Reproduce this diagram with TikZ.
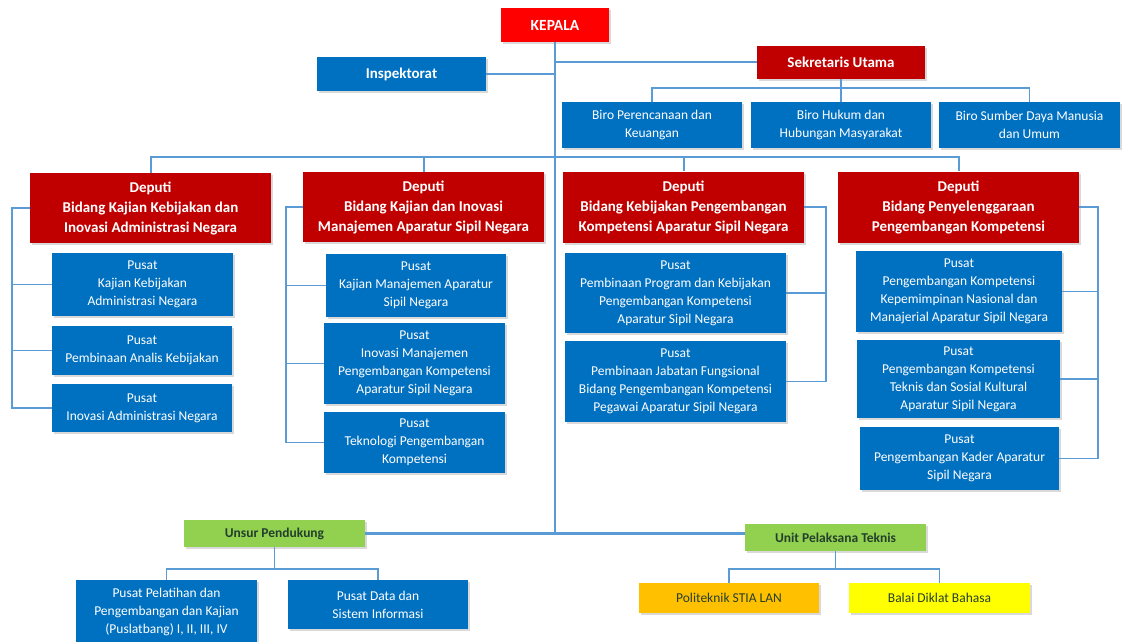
\documentclass[tikz,border=0pt]{standalone}
\usepackage{fontspec}
\setmainfont{Carlito}
\usetikzlibrary{shadows}

\definecolor{kepred}{HTML}{FF0000}
\definecolor{depred}{HTML}{C00000}
\definecolor{unitblue}{HTML}{0070C0}
\definecolor{linkblue}{HTML}{5B9BD5}
\definecolor{supgreen}{HTML}{92D050}
\definecolor{poliorange}{HTML}{FFC000}
\definecolor{balaiyellow}{HTML}{FFFF00}
\definecolor{darktext}{HTML}{24402C}

\begin{document}
\begin{tikzpicture}[x=1pt, y=-1pt,
  box/.style={inner sep=0pt, align=center,
    drop shadow={shadow xshift=2pt, shadow yshift=-2pt, opacity=0.3}},
  head/.style={box, fill=depred, text=white, font=\fontsize{15}{20}\selectfont\bfseries},
  unit/.style={box, fill=unitblue, text=white, font=\fontsize{13.5}{18}\selectfont},
  bold/.style={font=\fontsize{15}{18}\selectfont\bfseries},
  support/.style={box, fill=supgreen, text=darktext, font=\fontsize{13.5}{16}\selectfont\bfseries},
  school/.style={box, text=darktext, font=\fontsize{13.5}{16}\selectfont},
  link/.style={draw=linkblue, line width=1.4pt},
  mainlink/.style={draw=linkblue, line width=2.4pt}]

\useasboundingbox (0,0) rectangle (1125,642);
\clip (0,0) rectangle (1125,642);

\node[head, fill=kepred, font=\fontsize{15.5}{18}\selectfont\bfseries, minimum width=108pt, minimum height=34pt] (kepala) at (555,25) {KEPALA};
\node[unit, bold, minimum width=169pt, minimum height=34pt] (inspektorat) at (401.5,74) {Inspektorat};
\node[head, minimum width=168pt, minimum height=33pt] (sekretaris) at (841,62.5) {Sekretaris Utama};

\node[unit, minimum width=180pt, minimum height=46pt] (biro1) at (652,125) {Biro Perencanaan dan\\Keuangan};
\node[unit, minimum width=180pt, minimum height=46pt] (biro2) at (841,125) {Biro Hukum dan\\Hubungan Masyarakat};
\node[unit, minimum width=181pt, minimum height=46pt] (biro3) at (1029.5,125) {Biro Sumber Daya Manusia\\dan Umum};

\node[head, minimum width=241pt, minimum height=70pt] (dep1) at (150.5,208) {Deputi\\Bidang Kajian Kebijakan dan\\Inovasi Administrasi Negara};
\node[head, minimum width=241pt, minimum height=70pt] (dep2) at (423.5,207) {Deputi\\Bidang Kajian dan Inovasi\\Manajemen Aparatur Sipil Negara};
\node[head, minimum width=241pt, minimum height=71pt] (dep3) at (683.5,207) {Deputi\\Bidang Kebijakan Pengembangan\\Kompetensi Aparatur Sipil Negara};
\node[head, minimum width=241pt, minimum height=71pt] (dep4) at (958.5,207) {Deputi\\Bidang Penyelenggaraan\\Pengembangan Kompetensi};

\node[unit, minimum width=181pt, minimum height=63pt] (p1a) at (142.5,284.5) {Pusat\\Kajian Kebijakan\\Administrasi Negara};
\node[unit, minimum width=180pt, minimum height=49pt] (p1b) at (142,350.5) {Pusat\\Pembinaan Analis Kebijakan};
\node[unit, minimum width=180pt, minimum height=48pt] (p1c) at (142,408) {Pusat\\Inovasi Administrasi Negara};

\node[unit, minimum width=180pt, minimum height=63pt] (p2a) at (416,285.5) {Pusat\\Kajian Manajemen Aparatur\\Sipil Negara};
\node[unit, minimum width=181pt, minimum height=81pt] (p2b) at (414.5,363.5) {Pusat\\Inovasi Manajemen\\Pengembangan Kompetensi\\Aparatur Sipil Negara};
\node[unit, minimum width=181pt, minimum height=61pt] (p2c) at (414.5,442.5) {Pusat\\Teknologi Pengembangan\\Kompetensi};

\node[unit, minimum width=221pt, minimum height=80pt] (p3a) at (675.5,293) {Pusat\\Pembinaan Program dan Kebijakan\\Pengembangan Kompetensi\\Aparatur Sipil Negara};
\node[unit, minimum width=221pt, minimum height=81pt] (p3b) at (675.5,381.5) {Pusat\\Pembinaan Jabatan Fungsional\\Bidang Pengembangan Kompetensi\\Pegawai Aparatur Sipil Negara};

\node[unit, minimum width=206pt, minimum height=81pt] (p4a) at (959,291.5) {Pusat\\Pengembangan Kompetensi\\Kepemimpinan Nasional dan\\Manajerial Aparatur Sipil Negara};
\node[unit, minimum width=203pt, minimum height=78pt] (p4b) at (958.5,379) {Pusat\\Pengembangan Kompetensi\\Teknis dan Sosial Kultural\\Aparatur Sipil Negara};
\node[unit, minimum width=199pt, minimum height=63pt] (p4c) at (959.5,458.5) {Pusat\\Pengembangan Kader Aparatur\\Sipil Negara};

\node[support, minimum width=181pt, minimum height=27pt] (unsur) at (274.5,533.5) {Unsur Pendukung};
\node[unit, minimum width=181pt, minimum height=63pt] (ppel) at (166.5,611.5) {Pusat Pelatihan dan\\Pengembangan dan Kajian\\(Puslatbang) I, II, III, IV};
\node[unit, minimum width=180pt, minimum height=49pt] (pdata) at (378,604.5) {Pusat Data dan\\Sistem Informasi};

\node[support, minimum width=181pt, minimum height=27pt] (upt) at (835.5,537.5) {Unit Pelaksana Teknis};
\node[school, fill=poliorange, minimum width=180pt, minimum height=30pt] (poli) at (729,598) {Politeknik STIA LAN};
\node[school, fill=balaiyellow, minimum width=181pt, minimum height=30pt] (balai) at (939.5,598) {Balai Diklat Bahasa};

\coordinate (birobus) at (0,88);
\coordinate (depbus) at (0,157);
\coordinate (lane1) at (12,0);
\coordinate (lane2) at (286,0);
\coordinate (lane3) at (826,0);
\coordinate (lane4) at (1098,0);
\coordinate (subbus) at (0,569);

\draw[mainlink] (kepala.south) -- (kepala.south |- unsur.east);
\draw[mainlink] (unsur.east) -- (unsur.east -| upt.west);
\draw[link, line width=2pt] (inspektorat.east) -- (inspektorat.east -| kepala.south);
\draw[link, line width=2pt] (sekretaris.west) -- (sekretaris.west -| kepala.south);

\draw[link] (sekretaris.south) -- (biro2.north);
\draw[link] (biro1.north) |- (birobus -| biro3.north) -- (biro3.north);

\draw[link, line width=2pt] (dep1.north) |- (depbus -| dep4.north) -- (dep4.north);
\draw[link, line width=2pt] (dep2.north) -- (dep2.north |- depbus);
\draw[link, line width=2pt] (dep3.north) -- (dep3.north |- depbus);

\draw[link] (dep1.west) -| (lane1 |- p1c.west) -- (p1c.west);
\draw[link] (p1a.west) -- (p1a.west -| lane1);
\draw[link] (p1b.west) -- (p1b.west -| lane1);

\draw[link] (dep2.west) -| (lane2 |- p2c.west) -- (p2c.west);
\draw[link] (p2a.west) -- (p2a.west -| lane2);
\draw[link] (p2b.west) -- (p2b.west -| lane2);

\draw[link] (dep3.east) -| (lane3 |- p3b.east) -- (p3b.east);
\draw[link] (p3a.east) -- (p3a.east -| lane3);

\draw[link] (dep4.east) -| (lane4 |- p4c.east) -- (p4c.east);
\draw[link] (p4a.east) -- (p4a.east -| lane4);
\draw[link] (p4b.east) -- (p4b.east -| lane4);

\draw[link] (unsur.south) -- (unsur.south |- subbus);
\draw[link] (ppel.north) |- (subbus -| pdata.north) -- (pdata.north);

\draw[link] (upt.south) -- (upt.south |- subbus);
\draw[link] (poli.north) |- (subbus -| balai.north) -- (balai.north);

\end{tikzpicture}
\end{document}
